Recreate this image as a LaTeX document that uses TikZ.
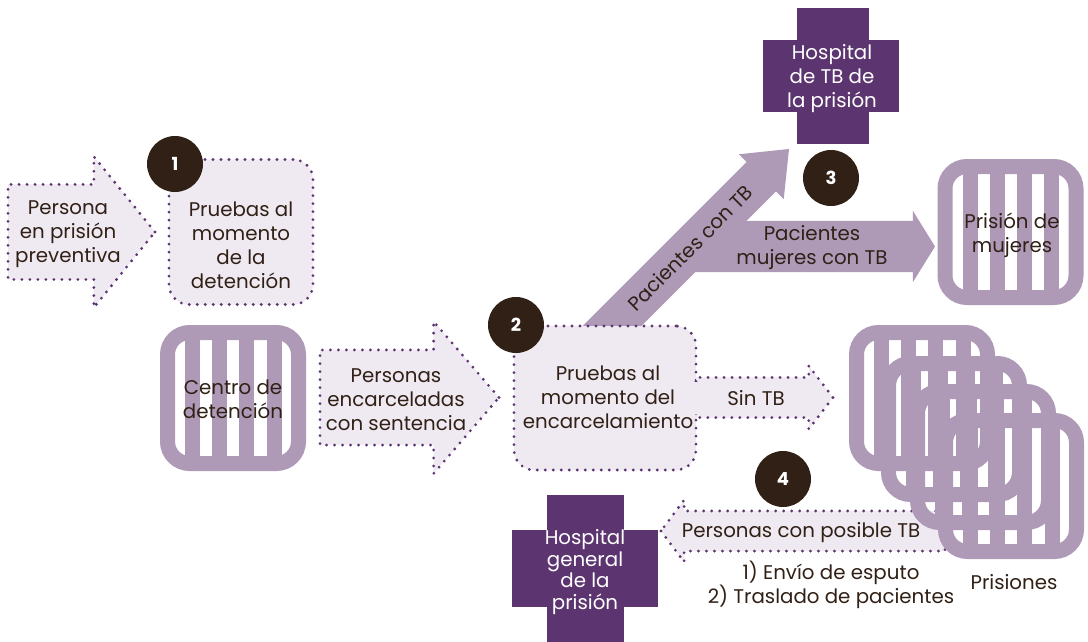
\documentclass[tikz,border=0pt]{standalone}
\usepackage{fontspec}
\setmainfont{Poppins}
\usepackage{xcolor}
\usetikzlibrary{shapes.arrows}
\definecolor{dotpurple}{RGB}{92, 53, 112}
\definecolor{softfill}{RGB}{239, 234, 241}
\definecolor{jailpurple}{RGB}{174, 154, 183}
\definecolor{crosspurple}{RGB}{92, 53, 112}
\definecolor{badgebrown}{RGB}{48, 32, 22}
\definecolor{textbrown}{RGB}{48, 32, 22}

\begin{document}
\begin{tikzpicture}[
        x=1pt, y=-1pt,
        every node/.style={font=\fontsize{19.8}{24}\selectfont, text=textbrown, align=center, inner sep=0pt, outer sep=0pt},
        dotline/.style={draw=dotpurple, line width=3.1pt, line cap=round, dash pattern=on 0pt off 8pt},
        softbox/.style={rectangle, dotline, fill=softfill, rounded corners=20pt},
        softarrow/.style={single arrow, dotline, fill=softfill, anchor=tip},
        solidarrow/.style={single arrow, fill=jailpurple, anchor=tip},
        badge/.style={circle, fill=badgebrown, text=white, minimum size=56pt, font=\fontsize{18}{24}\selectfont\bfseries},
        crossarm/.style={rectangle, fill=crosspurple, text=white},
        pics/jailicon/.style={code={
            \draw[jailpurple, line width=15pt, rounded corners=22pt] (-65.5,-65.5) rectangle (65.5,65.5);
            \foreach \barx in {-40.5,-13.5,13.5,41}
                \fill[jailpurple] ({\barx-7.5},-62) rectangle ({\barx+7.5},62);
        }}
    ]
    \useasboundingbox (0,0) rectangle (1088,642);

    % Detention side
    \node[softarrow, inner ysep=46pt, minimum height=147pt, single arrow head extend=28pt, single arrow tip angle=102] (remandarrow) at (155,232) {};
    \node (remandtext) at (68,234) {Persona\\ en prisión\\ preventiva};
    \node[softbox, minimum width=144pt, minimum height=145pt] (arresttest) at (241,232) {};
    \node (arresttext) at (241,245) {Pruebas al\\ momento\\ de la\\ detención};
    \node[badge] (badge1) at (175,164) {1};

    \pic at (233,398) {jailicon};
    \node (detention) at (233,399) {Centro de\\ detención};

    \node[softarrow, inner ysep=46pt, minimum height=179pt, single arrow head extend=28.5pt, single arrow tip angle=98.6] (sentencearrow) at (499,397.5) {};
    \node (sentencetext) at (396,400) {Personas\\ encarceladas\\ con sentencia};

    % Solid arrows out of the prison test
    \node[solidarrow, rotate=45, inner ysep=20.5pt, minimum height=285pt, single arrow head extend=11pt, single arrow tip angle=78] (tbarrow) at (789,149) {};
    \node[solidarrow, inner ysep=25.5pt, minimum height=243pt, single arrow head extend=10pt, single arrow tip angle=116.4] (womenarrow) at (935,246.5) {};
    \node[rotate=45] (tbtext) at (690,248) {Pacientes con TB};
    \node (womentext) at (812,248) {Pacientes\\ mujeres con TB};

    % Prison test
    \node[softbox, minimum width=182pt, minimum height=144pt] (prisontest) at (605,398) {};
    \node[softarrow, inner ysep=18.5pt, minimum height=137pt, single arrow head extend=11.5pt, single arrow tip angle=105] (notbarrow) at (833,397.5) {};
    \fill[softfill] (692,381.5) rectangle (700,413.5);
    \node (prisontext) at (608,397) {Pruebas al\\ momento del\\ encarcelamiento};
    \node (notbtext) at (756,398) {Sin TB};
    \node[badge] (badge2) at (516,325) {2};

    % Hospitals
    \node[rectangle, fill=crosspurple, minimum width=72pt, minimum height=136pt] (tbstem) at (832.5,76) {};
    \node[crossarm, minimum width=136pt, minimum height=72pt] (tbhospital) at (831,76) {};
    \node[text=white] (tbhospitaltext) at (832,79) {Hospital\\ de TB de\\ la prisión};
    \node[badge] (badge3) at (831,178) {3};

    \node[rectangle, fill=crosspurple, minimum width=77pt, minimum height=147pt] (generalstem) at (585.5,568.5) {};
    \node[crossarm, minimum width=146pt, minimum height=77pt] (generalhospital) at (585,568.5) {};
    \node[text=white, font=\fontsize{19.8}{21.7}\selectfont] (generaltext) at (585,572) {Hospital\\ general\\ de la\\ prisión};

    % Women's prison
    \pic at (1010.5,232) {jailicon};
    \node (womenprison) at (1012,235) {Prisión de\\ mujeres};

    % Way back to the hospital
    \node[softarrow, shape border rotate=180, inner ysep=18.5pt, minimum height=284pt, single arrow head extend=11pt, single arrow tip angle=106.6] (returnarrow) at (661,531) {};
    \node (returntext) at (801,533) {Personas con posible TB};
    \node[badge] (badge4) at (783,479) {4};
    \node (returnsteps) at (831,585) {1) Envío de esputo\\ 2) Traslado de pacientes};

    % Prisons
    \pic at (922,398) {jailicon};
    \pic at (954,429) {jailicon};
    \pic at (983,457) {jailicon};
    \pic at (1011,486) {jailicon};
    \node (prisons) at (1014,582) {Prisiones};

    \end{tikzpicture}
\end{document}
